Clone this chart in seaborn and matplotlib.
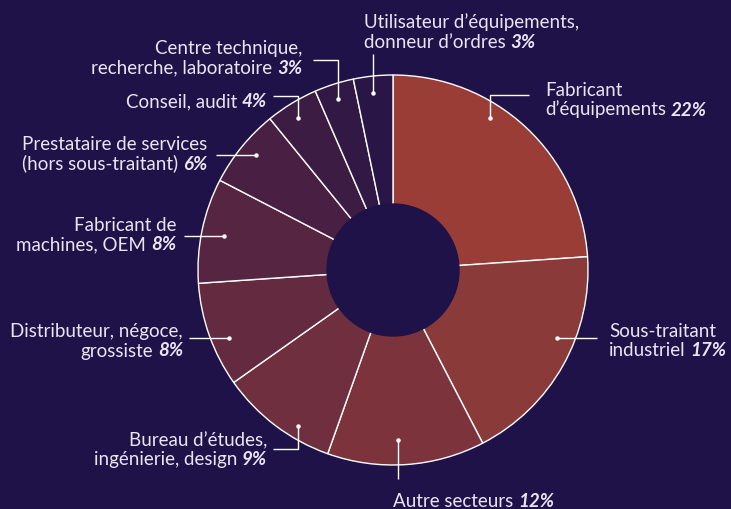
import matplotlib
matplotlib.use("Agg")
import matplotlib.pyplot as plt
import seaborn as sns

# données (en %)
secteurs = [
    "Fabricant d’équipements",
    "Sous-traitant industriel",
    "Autre secteurs",
    "Bureau d’études, ingénierie, design",
    "Distributeur, négoce, grossiste",
    "Fabricant de machines, OEM",
    "Prestataire de services (hors sous-traitant)",
    "Conseil, audit",
    "Centre technique, recherche, laboratoire",
    "Utilisateur d’équipements, donneur d’ordres",
]
parts = [22, 17, 12, 9, 8, 8, 6, 4, 3, 3]
pct_labels = [f"{p}%" for p in parts]

# texte des étiquettes : première(s) ligne(s), puis la ligne qui porte le %
label_lines = [
    ["Fabricant", "d’équipements"],
    ["Sous-traitant", "industriel"],
    ["Autre secteurs"],
    ["Bureau d’études,", "ingénierie, design"],
    ["Distributeur, négoce,", "grossiste"],
    ["Fabricant de", "machines, OEM"],
    ["Prestataire de services", "(hors sous-traitant)"],
    ["Conseil, audit"],
    ["Centre technique,", "recherche, laboratoire"],
    ["Utilisateur d’équipements,", "donneur d’ordres"],
]

# couleurs des parts
couleurs = ["#9a3d36", "#8a3a39", "#7c333b", "#6f2f3e", "#632a40",
            "#562541", "#492043", "#3d1c44", "#321945", "#291647"]
fond = "#1f1249"
texte = "#e9e5f2"

# mise en page (pixels, origine en haut à gauche) : ancre du texte, alignement, tracé du trait
layout = [
    (545, 96, "left", [(490, 119), (490, 96), (529, 96)]),
    (609, 337, "left", [(557, 339), (597, 339)]),
    (393, 507, "left", [(398, 441), (398, 480)]),
    (267, 446, "right", [(298, 427), (298, 450), (273, 450)]),
    (183, 337, "right", [(229, 339), (189, 339)]),
    (176, 231, "right", [(224, 237), (184, 237)]),
    (207, 150, "right", [(256, 156), (216, 156)]),
    (267, 107, "right", [(298, 119), (298, 97), (273, 97)]),
    (302, 54, "right", [(338, 100), (338, 61), (313, 61)]),
    (364, 28, "left", [(373, 94), (373, 55)]),
]

W, H = 731, 510
sns.set_theme(style="white")
plt.rcParams['font.family'] = ['Lato', 'DejaVu Sans']

fig = plt.figure(figsize=(W / 100, H / 100), dpi=100, facecolor=fond)
ax = fig.add_axes([0, 0, 1, 1])
ax.set_facecolor(fond)

cx, cy, r = 393, H - 271, 195
ax.pie(parts, colors=couleurs, startangle=90, counterclock=False,
       center=(cx, cy), radius=r,
       wedgeprops=dict(edgecolor="white", linewidth=1.0))
# trou central
ax.add_patch(plt.Circle((cx, cy), 66, color=fond, zorder=5))

ax.set_xlim(0, W)
ax.set_ylim(0, H)
ax.set_aspect("auto")
ax.axis("off")

fs = 13.5
lh = 19.5
for lines, pct, (tx, ty, ha, path) in zip(label_lines, pct_labels, layout):
    # trait de rappel
    xs = [p[0] for p in path]
    ys = [H - p[1] for p in path]
    ax.plot(xs, ys, color="white", lw=1.0, solid_capstyle="butt", zorder=6)
    ax.plot(xs[0], ys[0], "o", color="white", ms=2.2, zorder=7)

    n = len(lines)
    y_last = H - ty - (n - 1) * lh
    for i, line in enumerate(lines[:-1]):
        ax.text(tx, H - ty - i * lh, line, ha=ha, va="baseline",
                fontsize=fs, color=texte)
    if ha == "left":
        t1 = ax.text(tx, y_last, lines[-1], ha="left", va="baseline",
                     fontsize=fs, color=texte)
        ax.annotate(pct, xy=(1, y_last), xycoords=(t1, "data"),
                    xytext=(3.5, 0), textcoords="offset points",
                    ha="left", va="baseline", fontsize=fs, color=texte,
                    fontweight="bold", fontstyle="italic")
    else:
        t1 = ax.text(tx, y_last, pct, ha="right", va="baseline",
                     fontsize=fs, color=texte,
                     fontweight="bold", fontstyle="italic")
        ax.annotate(lines[-1], xy=(0, y_last), xycoords=(t1, "data"),
                    xytext=(-3.5, 0), textcoords="offset points",
                    ha="right", va="baseline", fontsize=fs, color=texte)

fig.savefig("out.png", dpi=100, facecolor=fond)
